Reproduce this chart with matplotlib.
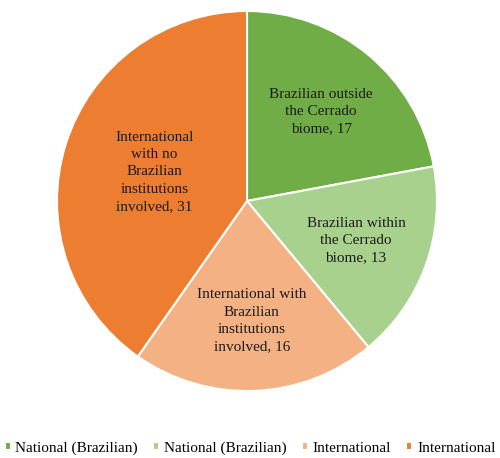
import numpy as np
import matplotlib.pyplot as plt

plt.rcParams['font.family'] = ['Liberation Serif', 'DejaVu Serif']

# data
values = [17, 13, 16, 31]
slice_labels = ['Brazilian outside\nthe Cerrado\nbiome, 17',
                'Brazilian within\nthe Cerrado\nbiome, 13',
                'International with\nBrazilian\ninstitutions\ninvolved, 16',
                'International\nwith no\nBrazilian\ninstitutions\ninvolved, 31']
legend_labels = ['National (Brazilian)', 'National (Brazilian)', 'International', 'International']
colors = ['#70AD47', '#A9D18E', '#F4B183', '#ED7D31']
label_r = [0.61, 0.61, 0.63, 0.51]

fig = plt.figure(figsize=(5, 4.58), dpi=100)
ax = fig.add_axes([57/500, 1 - 391/458, 380/500, 380/458])

wedges, _ = ax.pie(values, colors=colors, startangle=90, counterclock=False,
                   wedgeprops=dict(edgecolor='white', linewidth=1.5))
ax.set_aspect('equal')
ax.set_xlim(-1, 1)
ax.set_ylim(-1, 1)

for w, lab, r in zip(wedges, slice_labels, label_r):
    mid = np.deg2rad((w.theta1 + w.theta2) / 2)
    ax.text(r * np.cos(mid), r * np.sin(mid), lab, ha='center', va='center',
            fontsize=11, linespacing=1.42, color='#1a1a1a')

fig.legend(wedges, legend_labels, loc='lower center', bbox_to_anchor=(0.5, -0.02),
           ncol=4, frameon=False, fontsize=11, handlelength=0.4, handleheight=0.4,
           handletextpad=0.3, columnspacing=1.0, borderpad=0.3)

fig.savefig('out.png', dpi=100)
